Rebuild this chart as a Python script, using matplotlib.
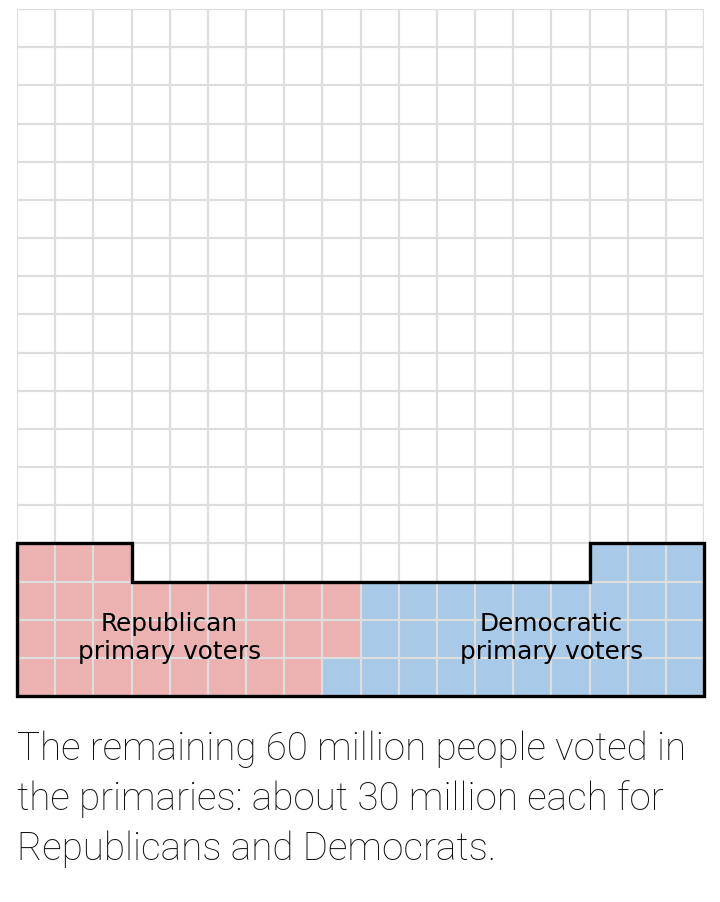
import matplotlib.pyplot as plt
from matplotlib.patches import Rectangle, Polygon

# grid of 18 x 18 cells, each cell ~ 1 million people
n_cols = 18
n_rows = 18

# filled cells per row, counted from the bottom row up
rep_counts = [8, 9, 9, 3]    # filled from the left
dem_counts = [10, 9, 9, 3]   # filled from the right

rep_label = "Republican\nprimary voters"
dem_label = "Democratic\nprimary voters"
caption = ["The remaining 60 million people voted in",
           "the primaries: about 30 million each for",
           "Republicans and Democrats."]

rep_color = "#ebb2b1"
dem_color = "#a9c9e8"
grid_color = "#dedede"

W, H = 720, 903
fig = plt.figure(figsize=(W / 100, H / 100), dpi=100)
ax = fig.add_axes([17 / W, (H - 697) / H, 687 / W, 687 / H])
ax.set_xlim(0, n_cols)
ax.set_ylim(0, n_rows)
ax.axis("off")

# colored cells
for row, n in enumerate(rep_counts):
    ax.add_patch(Rectangle((0, row), n, 1, facecolor=rep_color, edgecolor="none", zorder=1))
for row, n in enumerate(dem_counts):
    ax.add_patch(Rectangle((n_cols - n, row), n, 1, facecolor=dem_color, edgecolor="none", zorder=1))

# grid lines
for i in range(n_cols + 1):
    ax.plot([i, i], [0, n_rows], color=grid_color, lw=1.6, zorder=2, solid_capstyle="butt")
for j in range(n_rows + 1):
    ax.plot([0, n_cols], [j, j], color=grid_color, lw=1.6, zorder=2, solid_capstyle="butt")

# black outline around the primary voters block
full = len(rep_counts) - 1
top_l = rep_counts[-1]
top_r = dem_counts[-1]
outline = [(0, 0), (n_cols, 0), (n_cols, full + 1), (n_cols - top_r, full + 1),
           (n_cols - top_r, full), (top_l, full), (top_l, full + 1), (0, full + 1)]
ax.add_patch(Polygon(outline, closed=True, fill=False, edgecolor="black",
                     lw=2.4, joinstyle="miter", zorder=3, clip_on=False))

label_font = ["DejaVu Sans"]
ax.text(4.0, 1.55, rep_label, ha="center", va="center", fontsize=17.8,
        family=label_font, linespacing=1.2, zorder=4)
ax.text(14.0, 1.55, dem_label, ha="center", va="center", fontsize=17.8,
        family=label_font, linespacing=1.2, zorder=4)

for k, line in enumerate(caption):
    fig.text(17 / W, 1 - (760 + 50 * k) / H, line, ha="left", va="baseline",
             fontsize=27.8, family=["Roboto", "DejaVu Sans"], fontweight="light",
             color="#111111")

fig.savefig("out.png", dpi=100, facecolor="white")
